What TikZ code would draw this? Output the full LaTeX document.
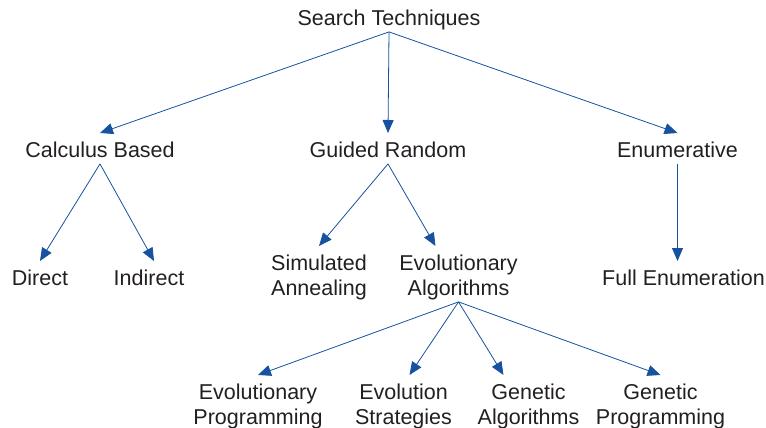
\documentclass[tikz,border=0pt]{standalone}
\usepackage{fontspec}
\setmainfont{Liberation Sans}
\usetikzlibrary{arrows.meta}
\definecolor{ink}{RGB}{35,31,32}
\definecolor{linkblue}{RGB}{22,82,160}
\newcommand{\topstrut}{\rule{0pt}{24pt}}
\newcommand{\botstrut}{\rule[-6.5pt]{0pt}{6.5pt}}

\begin{document}
\begin{tikzpicture}[x=1pt,y=1pt,yscale=-1,xscale=1,
	term/.style={font=\fontsize{21.5}{25}\selectfont, text=ink, align=center,
		anchor=north, inner xsep=2pt, inner ysep=0pt},
	link/.style={draw=linkblue, line width=0.8pt,
		-{Triangle[length=13pt,width=11pt]}}]
	\useasboundingbox (0,0) rectangle (766,428); %picture is 766 wide, 428 high

	% Text Node
	\node[term] (tech) at (389,1) {\topstrut Search Techniques\botstrut};
	% Text Node
	\node[term] (calc) at (100,133) {\topstrut Calculus Based\botstrut};
	% Text Node
	\node[term] (guided) at (388,133) {\topstrut Guided Random\botstrut};
	% Text Node
	\node[term] (enum) at (677.5,133) {\topstrut Enumerative\botstrut};
	% Text Node
	\node[term] (direct) at (40,261) {\topstrut Direct\botstrut};
	% Text Node
	\node[term] (indirect) at (149,261) {\topstrut Indirect\botstrut};
	% Text Node
	\node[term] (simann) at (319,246) {\topstrut Simulated\\Annealing\botstrut};
	% Text Node
	\node[term] (evoalg) at (458.5,246) {\topstrut Evolutionary\\Algorithms\botstrut};
	% Text Node
	\node[term] (fullenum) at (683.5,261) {\topstrut Full Enumeration\botstrut};
	% Text Node
	\node[term] (evoprog) at (258,375) {\topstrut Evolutionary\\Programming\botstrut};
	% Text Node
	\node[term] (evostrat) at (403.5,375) {\topstrut Evolution\\Strategies\botstrut};
	% Text Node
	\node[term] (genalg) at (528.5,375) {\topstrut Genetic\\Algorithms\botstrut};
	% Text Node
	\node[term] (genprog) at (660.5,375) {\topstrut Genetic\\Programming\botstrut};

	% Straight Lines
	\draw[link] (tech.south) -- (calc.north);
	\draw[link] (tech.south) -- (guided.north);
	\draw[link] (tech.south) -- (enum.north);
	% Straight Lines
	\draw[link] (calc.south) -- (direct.north);
	\draw[link] (calc.south) -- ([xshift=5pt]indirect.north);
	% Straight Lines
	\draw[link] (guided.south) -- (simann.north);
	\draw[link] (guided.south) -- ([xshift=-23pt]evoalg.north);
	% Straight Lines
	\draw[link] (enum.south) -- (enum.south |- fullenum.north);
	% Straight Lines
	\draw[link] (evoalg.south) -- (evoprog.north);
	\draw[link] (evoalg.south) -- ([xshift=6pt]evostrat.north);
	\draw[link] (evoalg.south) -- ([xshift=-25pt]genalg.north);
	\draw[link] (evoalg.south) -- (genprog.north);
\end{tikzpicture}
\end{document}
